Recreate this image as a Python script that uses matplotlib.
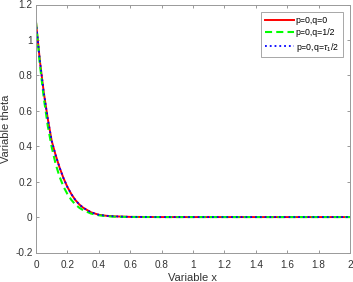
import numpy as np
import matplotlib
matplotlib.use("Agg")
import matplotlib.pyplot as plt

# values
x = [0, 0.025, 0.05, 0.075, 0.1, 0.125, 0.15, 0.175, 0.2, 0.225, 0.25, 0.275,
     0.3, 0.35, 0.4, 0.45, 0.5, 0.6, 0.8, 1.0, 1.2, 1.4, 1.6, 1.8, 2.0]
theta_q0 = [1.10, 0.88, 0.70, 0.555, 0.43, 0.35, 0.28, 0.22, 0.17, 0.13, 0.097,
            0.072, 0.053, 0.027, 0.013, 0.007, 0.004, 0.001, 0, 0, 0, 0, 0, 0, 0]
theta_qhalf = [1.10, 0.86, 0.67, 0.515, 0.395, 0.30, 0.228, 0.172, 0.13, 0.097,
               0.072, 0.053, 0.039, 0.02, 0.01, 0.005, 0.002, 0.0005, 0, 0, 0,
               0, 0, 0, 0]
theta_qtau = theta_q0

labels = ['p=0,q=0', 'p=0,q=1/2', r'p=0,q=$\tau_1$/2']

plt.rcParams['font.family'] = ['Liberation Sans', 'DejaVu Sans']
plt.rcParams['mathtext.fontset'] = 'custom'
plt.rcParams['mathtext.it'] = 'Liberation Sans:italic'
plt.rcParams['mathtext.rm'] = 'Liberation Sans'

fig = plt.figure(figsize=(3.53, 2.82), dpi=100)
ax = fig.add_axes([36 / 353, 29.5 / 282, 314 / 353, 248 / 282])

ax.plot(x, theta_q0, color='red', linestyle='-', linewidth=1.4, label=labels[0])
ax.plot(x, theta_qhalf, color='#00ff00', linestyle='--', linewidth=1.5,
        dashes=(3.4, 2), label=labels[1])
ax.plot(x, theta_qtau, color='blue', linestyle=':', linewidth=1.3, label=labels[2])

ax.set_xlim(0, 2)
ax.set_ylim(-0.2, 1.2)
ax.set_xticks(np.arange(0, 2.01, 0.2))
ax.set_xticklabels(['0', '0.2', '0.4', '0.6', '0.8', '1', '1.2', '1.4', '1.6', '1.8', '2'])
ax.set_yticks(np.arange(-0.2, 1.21, 0.2))
ax.set_yticklabels(['-0.2', '0', '0.2', '0.4', '0.6', '0.8', '1', '1.2'])

ax.tick_params(direction='in', top=True, right=True, length=2.5, width=0.6,
               color='#888888', labelsize=7.2, labelcolor='#333333')
ax.tick_params(axis='x', pad=5.5)
ax.tick_params(axis='y', pad=2.5)
for s in ax.spines.values():
    s.set_color('#999999')
    s.set_linewidth(0.7)

ax.set_xlabel('Variable x', fontsize=8, color='#333333', labelpad=2)
ax.set_ylabel('Variable theta', fontsize=8, color='#333333', labelpad=3)

leg = ax.legend(loc='upper right', fontsize=6.3, fancybox=False, framealpha=1,
                handlelength=3.3, borderpad=0.45, labelspacing=0.38,
                handletextpad=0.2, borderaxespad=0.85)
leg.get_frame().set_edgecolor('#999999')
leg.get_frame().set_linewidth(0.6)

fig.savefig('out.png', dpi=100)
